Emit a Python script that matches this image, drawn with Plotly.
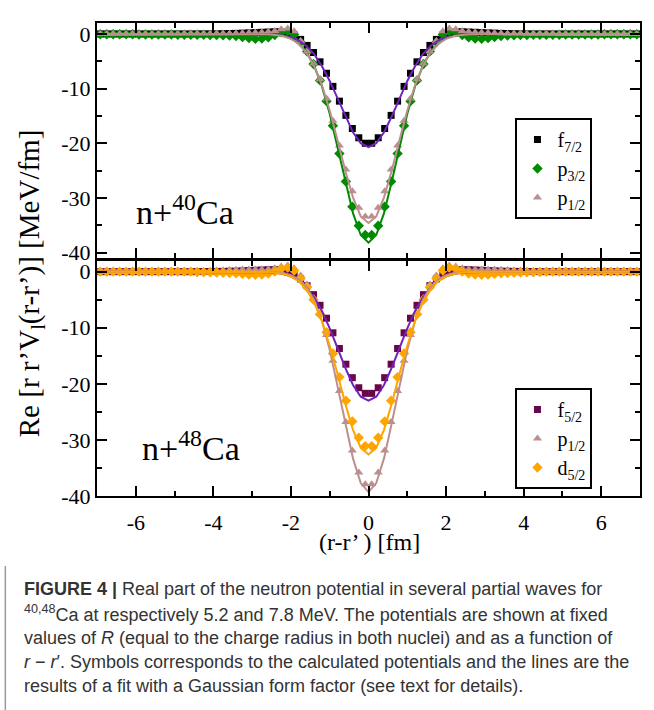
import plotly.graph_objects as go

# ---------------- data ----------------
X_PTS = [-6.917, -6.75, -6.583, -6.417, -6.25, -6.083, -5.917, -5.75, -5.583, -5.417, -5.25, -5.083,
         -4.917, -4.75, -4.583, -4.417, -4.25, -4.083, -3.917, -3.75, -3.583, -3.417, -3.25, -3.083,
         -2.917, -2.75, -2.583, -2.417, -2.25, -2.083, -1.917, -1.75, -1.583, -1.417, -1.25, -1.083,
         -0.917, -0.75, -0.583, -0.417, -0.25, -0.083,
         0.083, 0.25, 0.417, 0.583, 0.75, 0.917, 1.083, 1.25, 1.417, 1.583, 1.75, 1.917,
         2.083, 2.25, 2.417, 2.583, 2.75, 2.917, 3.083, 3.25, 3.417, 3.583, 3.75, 3.917,
         4.083, 4.25, 4.417, 4.583, 4.75, 4.917, 5.083, 5.25, 5.417, 5.583, 5.75, 5.917,
         6.083, 6.25, 6.417, 6.583, 6.75, 6.917]

# n + 40Ca
F72_TOP = [0, 0, 0, 0, 0, 0, 0, 0, 0, 0, 0, 0, 0, 0, 0, 0.01, 0.01, 0.02, 0.03, 0.05, 0.08, 0.1, 0.15, 0.2,
           0.25, 0.3, 0.35, 0.4, 0.35, 0.2, -0.2, -1.0, -2.1, -3.4, -5.1, -7.2, -9.6, -12.3, -14.9, -17.3, -19.0, -20.0,
           -20.0, -19.0, -17.3, -14.9, -12.3, -9.6, -7.2, -5.1, -3.4, -2.1, -1.0, -0.2, 0.2, 0.35, 0.4, 0.35, 0.3, 0.25,
           0.2, 0.15, 0.1, 0.08, 0.05, 0.03, 0.02, 0.01, 0.01, 0, 0, 0, 0, 0, 0, 0, 0, 0, 0, 0, 0, 0, 0, 0]
P32_TOP = [-0.05, -0.05, -0.05, -0.05, -0.05, -0.05, -0.1, -0.1, -0.1, -0.1, -0.1, -0.1, -0.15, -0.15, -0.15, -0.15, -0.15,
           -0.2, -0.2, -0.25, -0.3, -0.4, -0.55, -0.75, -0.9, -0.85, -0.6, -0.2, 0.3, 0.5, -0.1, -1.5, -3.2, -5.5,
           -8.5, -12.3, -16.8, -21.9, -27.0, -31.6, -35.1, -36.8,
           -36.8, -35.1, -31.6, -27.0, -21.9, -16.8, -12.3, -8.5, -5.5, -3.2, -1.5, -0.1, 0.5, 0.3, -0.2, -0.6, -0.85,
           -0.9, -0.75, -0.55, -0.4, -0.3, -0.25, -0.2, -0.2, -0.15, -0.15, -0.15, -0.15, -0.15, -0.1, -0.1, -0.1, -0.1,
           -0.1, -0.1, -0.05, -0.05, -0.05, -0.05, -0.05, -0.05]
P12_TOP = [0, 0, 0, 0, 0, 0, 0, 0, 0, 0, 0, 0, 0.01, 0.02, 0.02, 0.03, 0.04, 0.05, 0.06, 0.08, 0.1, 0.12, 0.15, 0.2,
           0.25, 0.3, 0.4, 0.55, 0.85, 1.0, 0.5, -1.3, -3.2, -5.4, -8.3, -11.8, -15.9, -20.4, -24.8, -28.8, -31.8, -33.4,
           -33.4, -31.8, -28.8, -24.8, -20.4, -15.9, -11.8, -8.3, -5.4, -3.2, -1.3, 0.5, 1.0, 0.85, 0.55, 0.4, 0.3, 0.25,
           0.2, 0.15, 0.12, 0.1, 0.08, 0.06, 0.05, 0.04, 0.03, 0.02, 0.02, 0.01, 0, 0, 0, 0, 0, 0, 0, 0, 0, 0, 0, 0]

# n + 48Ca
F52_BOT = [0, 0, 0, 0, 0, 0, 0, 0, 0, 0, 0, 0, 0, 0, 0, 0.01, 0.02, 0.03, 0.04, 0.05, 0.08, 0.1, 0.15, 0.2,
           0.25, 0.3, 0.35, 0.35, 0.25, 0.05, -0.4, -1.3, -2.5, -4.1, -6.0, -8.3, -10.9, -13.7, -16.5, -18.9, -20.7, -21.7,
           -21.7, -20.7, -18.9, -16.5, -13.7, -10.9, -8.3, -6.0, -4.1, -2.5, -1.3, -0.4, 0.05, 0.25, 0.35, 0.35, 0.3, 0.25,
           0.2, 0.15, 0.1, 0.08, 0.05, 0.04, 0.03, 0.02, 0.01, 0, 0, 0, 0, 0, 0, 0, 0, 0, 0, 0, 0, 0, 0, 0]
P12_BOT = [0, 0, 0, 0, 0, 0, 0, 0, 0, 0, 0, 0.01, 0.02, 0.03, 0.05, 0.08, 0.1, 0.15, 0.2, 0.25, 0.3, 0.35, 0.4, 0.4,
           0.4, 0.4, 0.45, 0.6, 0.9, 1.1, 0.6, -0.7, -2.3, -4.7, -7.5, -11.3, -15.9, -21.3, -26.8, -31.9, -35.8, -37.9,
           -37.9, -35.8, -31.9, -26.8, -21.3, -15.9, -11.3, -7.5, -4.7, -2.3, -0.7, 0.6, 1.1, 0.9, 0.6, 0.45, 0.4, 0.4,
           0.4, 0.4, 0.35, 0.3, 0.25, 0.2, 0.15, 0.1, 0.08, 0.05, 0.03, 0.02, 0.01, 0, 0, 0, 0, 0, 0, 0, 0, 0, 0, 0]
D52_BOT = [0, 0, 0, 0, 0, 0, 0, 0, 0, 0, 0, 0, 0, 0, 0, -0.05, -0.1, -0.1, -0.15, -0.2, -0.25, -0.3, -0.4, -0.5,
           -0.55, -0.5, -0.35, 0.0, 0.5, 0.75, 0.2, -1.2, -2.8, -5.0, -7.6, -10.8, -14.6, -18.8, -23.0, -26.7, -29.6, -31.1,
           -31.1, -29.6, -26.7, -23.0, -18.8, -14.6, -10.8, -7.6, -5.0, -2.8, -1.2, 0.2, 0.75, 0.5, 0.0, -0.35, -0.5, -0.55,
           -0.5, -0.4, -0.3, -0.25, -0.2, -0.15, -0.1, -0.1, -0.05, 0, 0, 0, 0, 0, 0, 0, 0, 0, 0, 0, 0, 0, 0, 0]

# Gaussian fit curves
X_FIT = [-7, -3.2, -2.6, -2.4, -2.2, -2.0, -1.8, -1.6, -1.4, -1.2, -1.0, -0.8, -0.6, -0.4, -0.2, 0,
         0.2, 0.4, 0.6, 0.8, 1.0, 1.2, 1.4, 1.6, 1.8, 2.0, 2.2, 2.4, 2.6, 3.2, 7]
FIT_F72_TOP = [0, 0, -0.06, -0.13, -0.3, -0.6, -1.2, -2.2, -3.7, -5.9, -8.6, -11.8, -15.1, -18.0, -20.0, -20.7,
               -20.0, -18.0, -15.1, -11.8, -8.6, -5.9, -3.7, -2.2, -1.2, -0.6, -0.3, -0.13, -0.06, 0, 0]
FIT_P32_TOP = [0, 0, -0.06, -0.15, -0.36, -0.8, -1.7, -3.3, -5.8, -9.6, -14.6, -20.7, -27.0, -32.8, -36.8, -38.2,
               -36.8, -32.8, -27.0, -20.7, -14.6, -9.6, -5.8, -3.3, -1.7, -0.8, -0.36, -0.15, -0.06, 0, 0]
FIT_P12_TOP = [0, 0, -0.08, -0.19, -0.43, -0.9, -1.8, -3.4, -5.9, -9.4, -14.0, -19.4, -25.0, -29.9, -33.4, -34.6,
               -33.4, -29.9, -25.0, -19.4, -14.0, -9.4, -5.9, -3.4, -1.8, -0.9, -0.43, -0.19, -0.08, 0, 0]
FIT_F52_BOT = [0, 0, -0.09, -0.2, -0.42, -0.84, -1.6, -2.8, -4.6, -7.0, -10.1, -13.6, -17.1, -20.2, -22.3, -23.0,
               -22.3, -20.2, -17.1, -13.6, -10.1, -7.0, -4.6, -2.8, -1.6, -0.84, -0.42, -0.2, -0.09, 0, 0]
FIT_P12_BOT = [0, 0, -0.04, -0.1, -0.25, -0.61, -1.35, -2.7, -5.1, -8.8, -13.9, -20.2, -27.0, -33.3, -37.7, -39.3,
               -37.7, -33.3, -27.0, -20.2, -13.9, -8.8, -5.1, -2.7, -1.35, -0.61, -0.25, -0.1, -0.04, 0, 0]
FIT_D52_BOT = [0, 0, -0.07, -0.18, -0.4, -0.87, -1.7, -3.2, -5.5, -8.8, -13.2, -18.2, -23.5, -28.2, -31.4, -32.6,
               -31.4, -28.2, -23.5, -18.2, -13.2, -8.8, -5.5, -3.2, -1.7, -0.87, -0.4, -0.18, -0.07, 0, 0]

X_TICKS = [-6, -4, -2, 0, 2, 4, 6]
X_TICK_TEXT = ["-6", "-4", "-2", "0", "2", "4", "6"]
Y_TICKS = [0, -10, -20, -30, -40]
Y_TICK_TEXT = ["0", "-10", "-20", "-30", "-40"]

# ---------------- styling ----------------
BLACK = "#000000"
GREEN = "#008b00"
BROWN = "#bc8f8f"
INDIGO = "#7221bc"
MAROON = "#670748"
ORANGE = "#ffa500"
SERIF = "Liberation Serif"

fig = go.Figure()


def add_fit(x, y, color, xa, ya):
    fig.add_trace(go.Scatter(x=x, y=y, mode="lines", line=dict(color=color, width=2),
                             xaxis=xa, yaxis=ya, showlegend=False, hoverinfo="skip"))


def add_pts(x, y, color, symbol, size, name, xa, ya, legend):
    fig.add_trace(go.Scatter(x=x, y=y, mode="markers", name=name,
                             marker=dict(color=color, symbol=symbol, size=size, line=dict(width=0)),
                             xaxis=xa, yaxis=ya, legend=legend))


# top panel
add_pts(X_PTS, F72_TOP, BLACK, "square", 7, "f<sub>7/2</sub>", "x", "y", "legend")
add_pts(X_PTS, P32_TOP, GREEN, "diamond", 8, "p<sub>3/2</sub>", "x", "y", "legend")
add_pts(X_PTS, P12_TOP, BROWN, "triangle-up", 8, "p<sub>1/2</sub>", "x", "y", "legend")
add_fit(X_FIT, FIT_F72_TOP, INDIGO, "x", "y")
add_fit(X_FIT, FIT_P32_TOP, GREEN, "x", "y")
add_fit(X_FIT, FIT_P12_TOP, BROWN, "x", "y")

# bottom panel
add_pts(X_PTS, F52_BOT, MAROON, "square", 7, "f<sub>5/2</sub>", "x2", "y2", "legend2")
add_pts(X_PTS, P12_BOT, BROWN, "triangle-up", 8, "p<sub>1/2</sub>", "x2", "y2", "legend2")
add_pts(X_PTS, D52_BOT, ORANGE, "diamond", 8, "d<sub>5/2</sub>", "x2", "y2", "legend2")
add_fit(X_FIT, FIT_F52_BOT, INDIGO, "x2", "y2")
add_fit(X_FIT, FIT_P12_BOT, BROWN, "x2", "y2")
add_fit(X_FIT, FIT_D52_BOT, ORANGE, "x2", "y2")

axis_common = dict(showline=True, linecolor=BLACK, linewidth=2, mirror="allticks",
                   ticks="inside", ticklen=10, tickwidth=2, tickcolor=BLACK,
                   showgrid=False, zeroline=False,
                   tickfont=dict(family=SERIF, size=22, color=BLACK))

x_common = dict(axis_common, range=[-7, 7], tickmode="array", tickvals=X_TICKS, ticktext=X_TICK_TEXT,
                minor=dict(ticks="inside", ticklen=5, tickwidth=2, tickcolor=BLACK, dtick=1, tick0=0, showgrid=False))
y_common = dict(axis_common, tickmode="array", tickvals=Y_TICKS, ticktext=Y_TICK_TEXT,
                minor=dict(ticks="inside", ticklen=5, tickwidth=2, tickcolor=BLACK, dtick=5, tick0=0, showgrid=False))

# plot area: left 97, right 642, top 23, bottom 496 (px)
M_L, M_R, M_T, M_B = 97, 12, 23, 214
W, H = 654, 710
PH = H - M_T - M_B


def py(ypx):
    return (H - M_B - ypx) / PH


def px(xpx):
    return (xpx - M_L) / (W - M_L - M_R)


legend_style = dict(xanchor="left", yanchor="top", bgcolor="white", bordercolor=BLACK, borderwidth=2,
                    font=dict(family=SERIF, size=20, color=BLACK), itemwidth=30, tracegroupgap=0)

fig.update_layout(
    width=W, height=H,
    margin=dict(l=M_L, r=M_R, t=M_T, b=M_B),
    paper_bgcolor="white", plot_bgcolor="white",
    xaxis=dict(x_common, anchor="y", showticklabels=False, domain=[0, 1]),
    yaxis=dict(y_common, anchor="x", range=[-41, 2], domain=[py(258), 1]),
    xaxis2=dict(x_common, anchor="y2", showticklabels=True, domain=[0, 1], ticklabelstandoff=6),
    yaxis2=dict(y_common, anchor="x2", range=[-40, 1.9], domain=[0, py(261)]),
    legend=dict(legend_style, x=px(517), y=py(118)),
    legend2=dict(legend_style, x=px(517), y=py(388)),
    showlegend=True,
)

annotations = [
    dict(text="Re [r r’V<sub>l</sub>(r-r’)] [MeV/fm]", x=px(31), y=py(283), textangle=-90,
         xanchor="center", yanchor="middle",
         font=dict(family=SERIF, size=29, color=BLACK)),
    dict(text="(r-r’ ) [fm]", x=px(371), y=py(542), xanchor="center", yanchor="middle",
         font=dict(family=SERIF, size=24, color=BLACK)),
    dict(text="n+<sup>40</sup>Ca", x=px(134), y=py(210), xanchor="left", yanchor="middle",
         font=dict(family=SERIF, size=34, color=BLACK)),
    dict(text="n+<sup>48</sup>Ca", x=px(140), y=py(446), xanchor="left", yanchor="middle",
         font=dict(family=SERIF, size=34, color=BLACK)),
]

CAPTION = [
    "<b>FIGURE 4 |</b> Real part of the neutron potential in several partial waves for",
    "<sup>40,48</sup>Ca at respectively 5.2 and 7.8 MeV. The potentials are shown at fixed",
    "values of <i>R</i> (equal to the charge radius in both nuclei) and as a function of",
    "<i>r</i> − <i>r</i>′. Symbols corresponds to the calculated potentials and the lines are the",
    "results of a fit with a Gaussian form factor (see text for details).",
]
CAPTION_Y = [589, 613, 638, 662, 686]
for line, ypx in zip(CAPTION, CAPTION_Y):
    annotations.append(dict(text=line, x=px(22), y=py(ypx), xanchor="left", yanchor="middle",
                            font=dict(family="Liberation Sans", size=18, color="#333333")))

for a in annotations:
    a.setdefault("xref", "paper")
    a.setdefault("yref", "paper")
    a.setdefault("showarrow", False)
fig.update_layout(annotations=annotations)

fig.add_shape(type="line", xref="paper", yref="paper", x0=px(5), x1=px(5), y0=py(566), y1=py(712),
              line=dict(color="#9a9a9a", width=1.5))

fig.write_html("out.html", config={"displayModeBar": False},
               post_script="document.body.style.margin='0px';")
